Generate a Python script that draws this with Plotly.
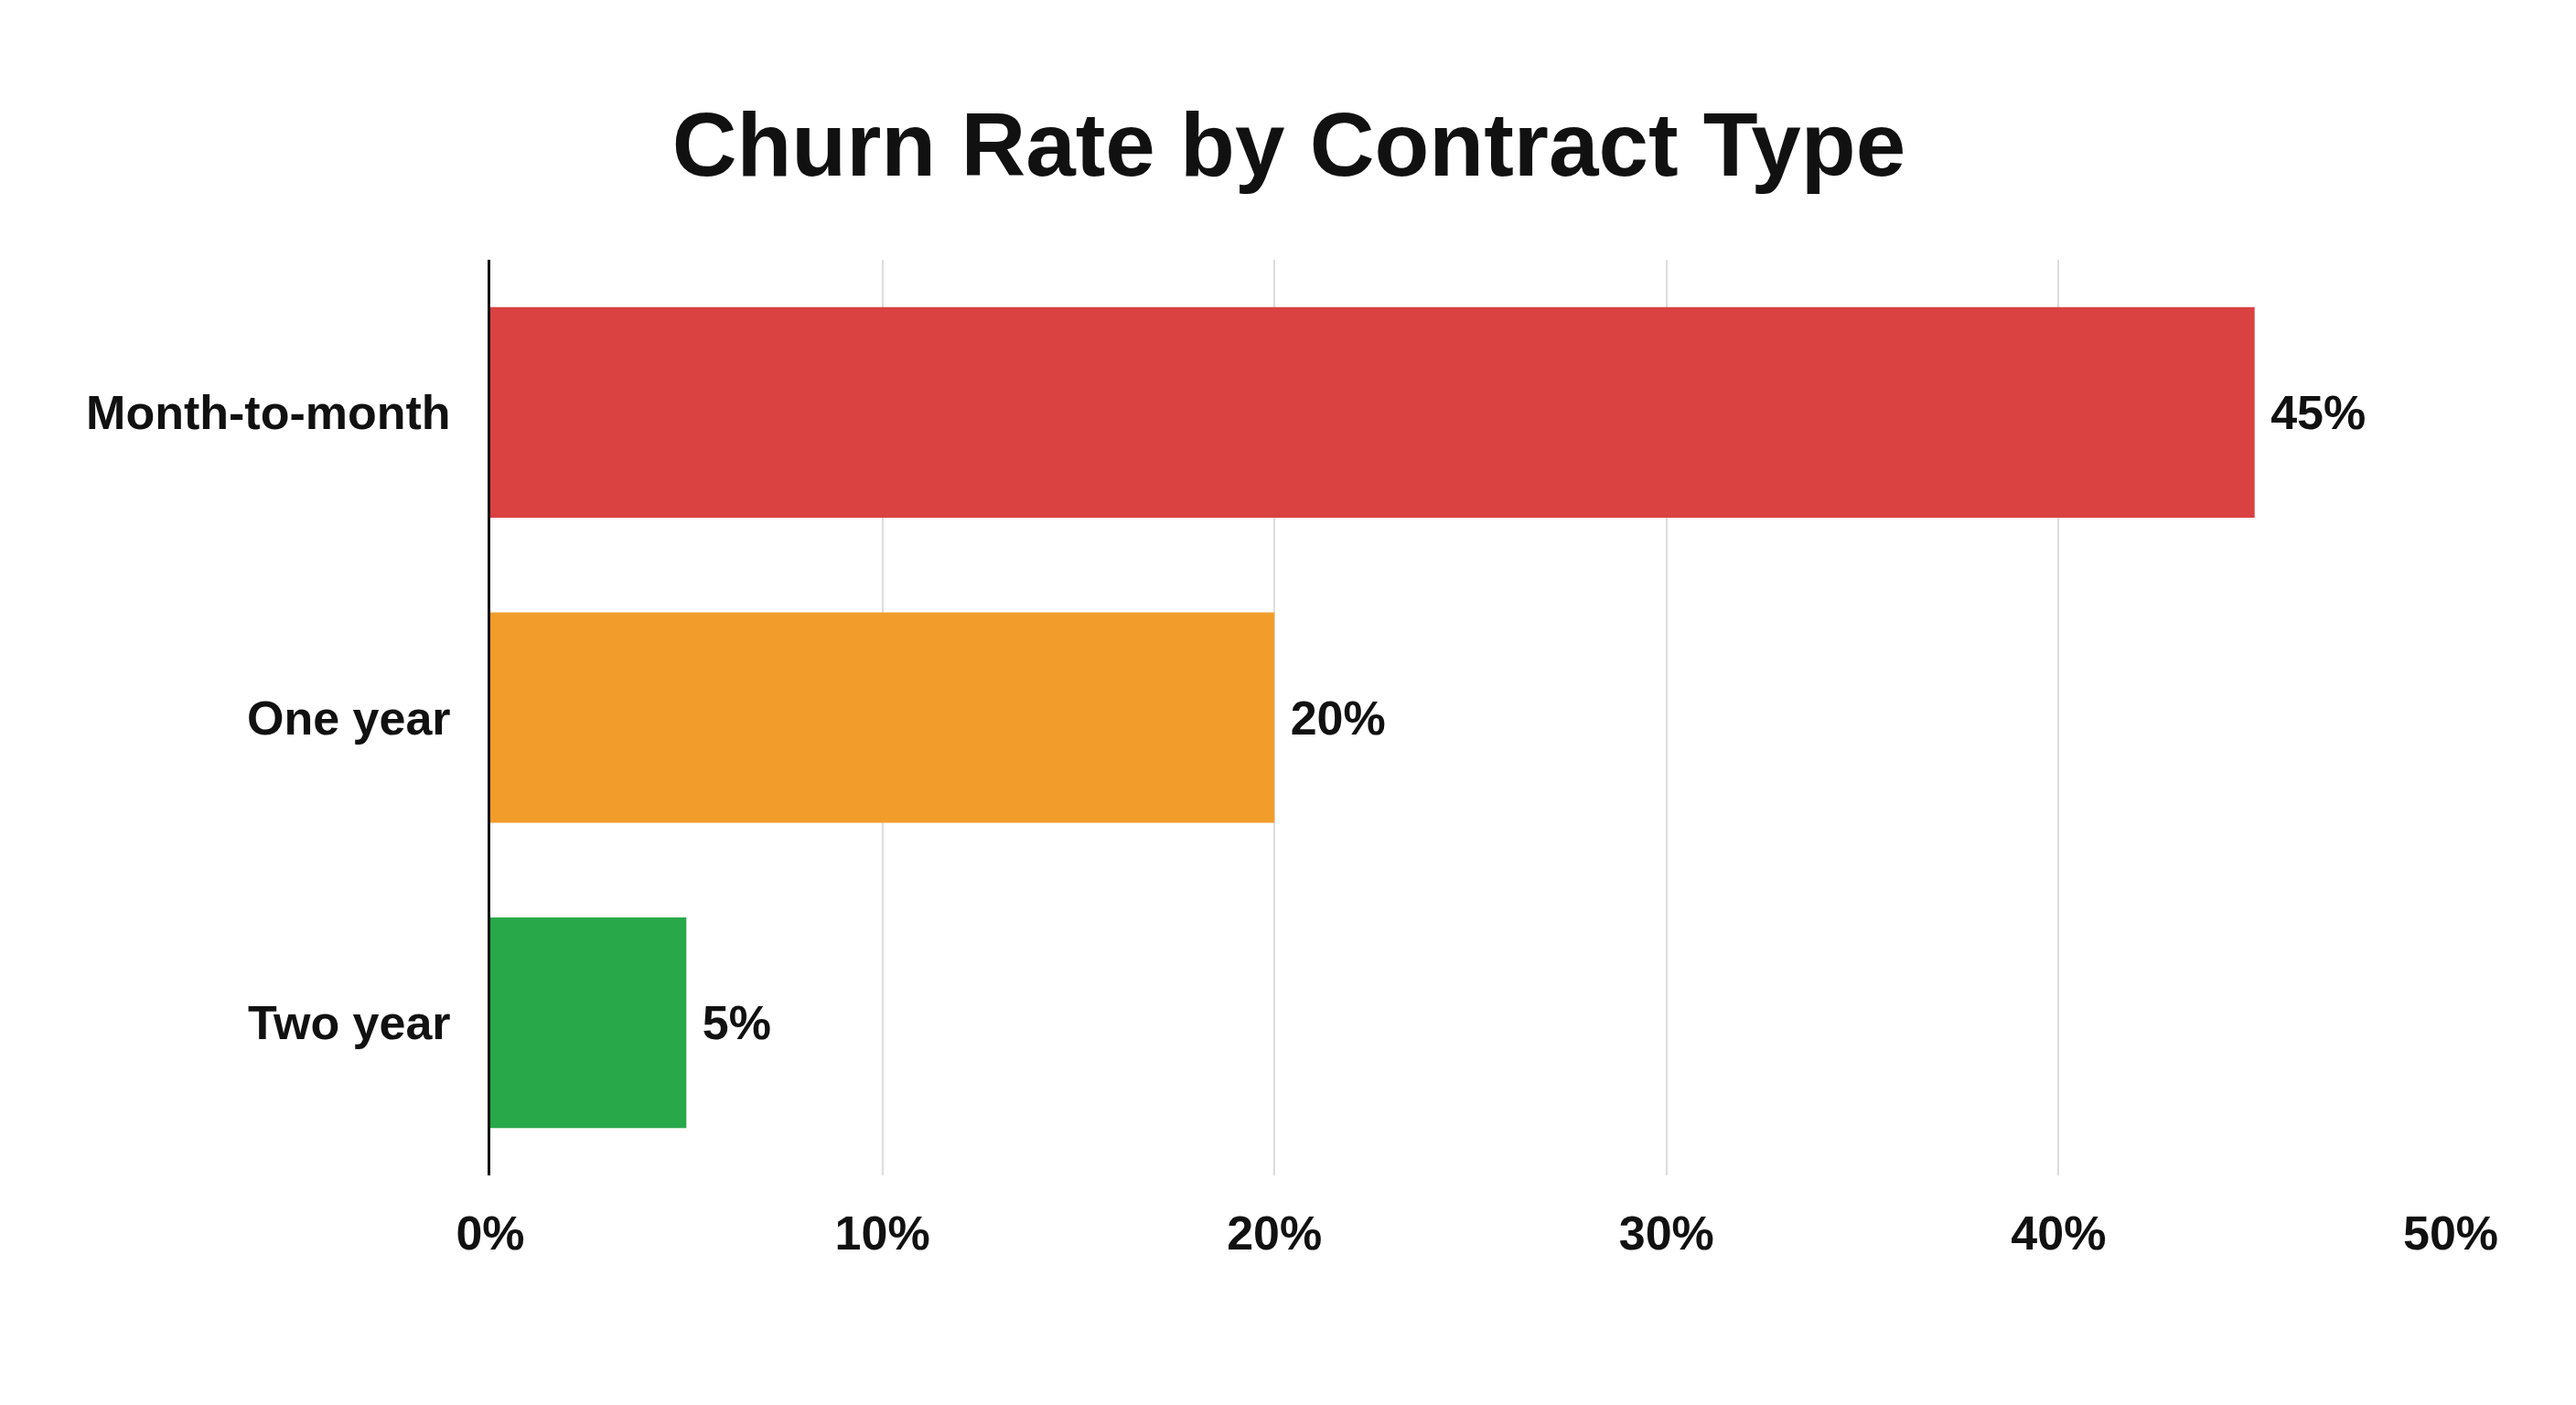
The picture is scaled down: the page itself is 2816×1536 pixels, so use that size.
import plotly.graph_objects as go

contract_types = ['Month-to-month', 'One year', 'Two year']
churn_rate = [45, 20, 5]
bar_colors = ['#DA4141', '#F29D2B', '#29A84A']
x_ticks = [0, 10, 20, 30, 40, 50]
x_tick_labels = ['0%', '10%', '20%', '30%', '40%', '50%']

FONT = 'Liberation Sans'


def plot_churn():
    fig = go.Figure(data=[go.Bar(
        y=contract_types,
        x=churn_rate,
        orientation='h',
        marker=dict(color=bar_colors, line=dict(width=0)),
        # spazio iniziale per staccare l'etichetta dalla barra
        text=[f' {v}%' for v in churn_rate],
        textposition='outside',
        textfont=dict(family=FONT, size=52, color='#111111', weight='bold'),
        constraintext='none',
        cliponaxis=False,
        width=0.69,
    )])

    fig.update_layout(
        width=2816, height=1536,
        paper_bgcolor='white', plot_bgcolor='white',
        margin=dict(l=528, r=145, t=276, b=259),
        showlegend=False,
        title=dict(text='Churn Rate by Contract Type',
                   x=0.4975, xanchor='center', xref='container',
                   y=1 - 150 / 1536, yanchor='middle',
                   font=dict(family=FONT, size=98, color='#111111', weight='bold')),
    )
    fig.update_xaxes(
        range=[0, 50], tickvals=x_ticks, ticktext=x_tick_labels,
        showgrid=True, gridcolor='#DDDDDD', gridwidth=2,
        zeroline=False, showline=False,
        ticks='', ticklabelstandoff=28,
        tickfont=dict(family=FONT, size=52, color='#111111', weight='bold'),
    )
    fig.update_yaxes(
        autorange=False, range=[2.5, -0.5],
        showgrid=False, zeroline=False,
        showline=True, linecolor='#111111', linewidth=3,
        ticks='', ticklabelstandoff=30,
        tickfont=dict(family=FONT, size=52, color='#111111', weight='bold'),
    )
    fig.write_html('out.html')


plot_churn()
